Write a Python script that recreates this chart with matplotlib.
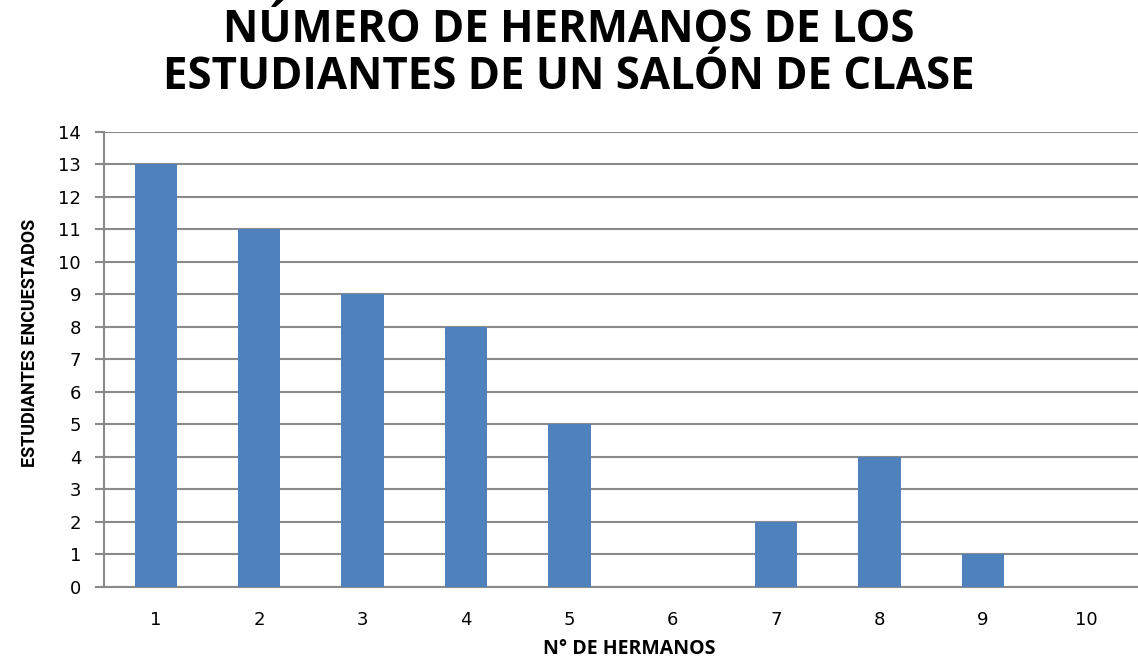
import matplotlib.pyplot as plt
import numpy as np

categories = ['1', '2', '3', '4', '5', '6', '7', '8', '9', '10']
estudiantes = [13, 11, 9, 8, 5, 0, 2, 4, 1, 0]

bar_color = '#4F81BD'
grid_color = '#8A8A8A'

fig = plt.figure(figsize=(11.38, 6.62), dpi=100)
ax = fig.add_axes([0.0914, 0.1133, 0.9086, 0.6878])

x = np.arange(1, len(categories) + 1)
ax.bar(x, estudiantes, width=0.41, color=bar_color, zorder=3)

ax.set_xlim(0.5, 10.5)
ax.set_ylim(0, 14)
ax.set_yticks(range(0, 15))
ax.set_xticks(x)
ax.set_xticklabels(categories)

ax.grid(axis='y', color=grid_color, linewidth=1.5, zorder=0)
for side in ['top', 'right']:
    ax.spines[side].set_visible(False)
for side in ['left', 'bottom']:
    ax.spines[side].set_color(grid_color)
    ax.spines[side].set_linewidth(1.5)

ax.tick_params(axis='y', length=6.5, width=1.5, color=grid_color, labelsize=13, pad=10)
ax.tick_params(axis='x', length=0, labelsize=13, pad=17)

fig.text(0.5, 0.919, 'NÚMERO DE HERMANOS DE LOS\nESTUDIANTES DE UN SALÓN DE CLASE',
         ha='center', va='center', fontsize=31.5, fontweight='bold',
         family='Open Sans', linespacing=1.06)

fig.text(0.553, 0.02, 'N° DE HERMANOS', ha='center', va='center',
         fontsize=14, fontweight='bold', family='Open Sans')
fig.text(0.026, 0.482, 'ESTUDIANTES ENCUESTADOS', ha='center', va='center',
         rotation=90, fontsize=13, fontweight='bold', family='Roboto')

fig.savefig('out.png', dpi=100)
